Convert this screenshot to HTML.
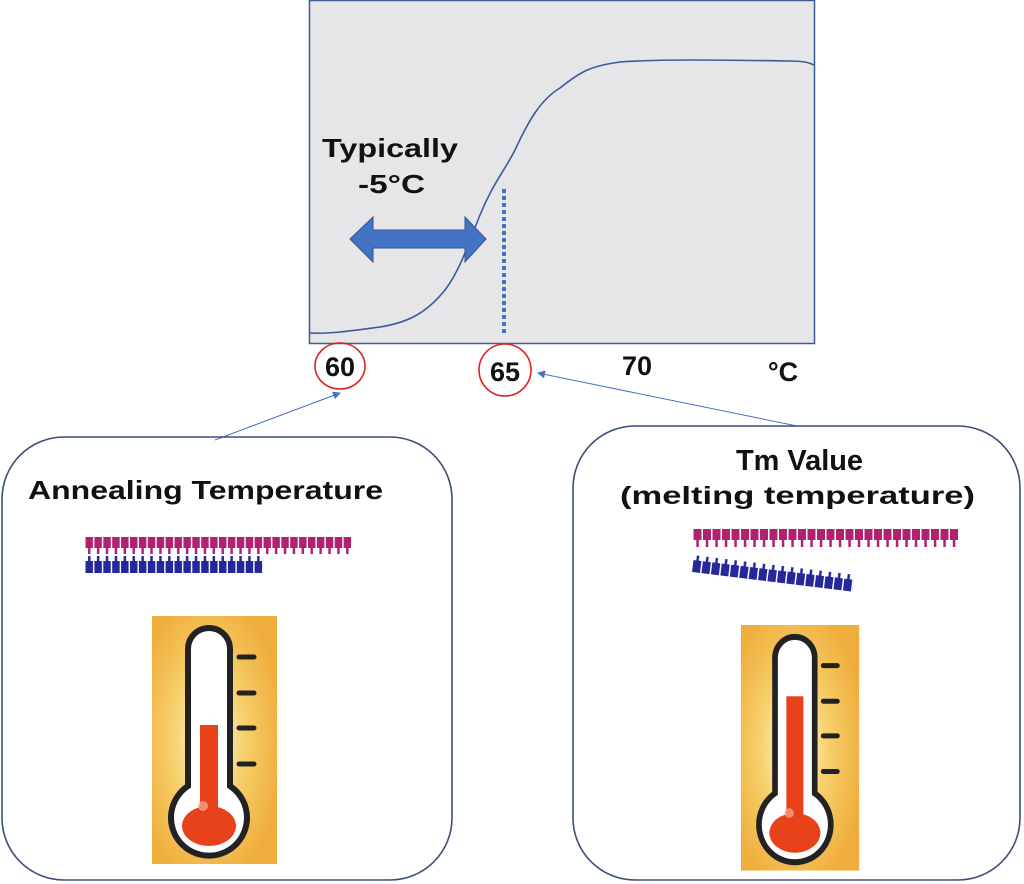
<!DOCTYPE html>
<html><head><meta charset="utf-8"><style>
html,body{margin:0;padding:0;background:#fff;}
svg{display:block;}
text{font-family:"Liberation Sans","DejaVu Sans",sans-serif;font-weight:bold;fill:#111;}
</style></head><body>
<svg width="1024" height="884" viewBox="0 0 1024 884" xmlns="http://www.w3.org/2000/svg">
<defs>
<pattern id="mag" x="85" y="0" width="8.9" height="900" patternUnits="userSpaceOnUse">
 <rect x="0.5" y="537" width="7.5" height="11" fill="#b0216f"/>
 <rect x="3" y="547" width="2.5" height="7" fill="#b0216f"/>
</pattern>
<pattern id="blu" x="85" y="0" width="8.9" height="900" patternUnits="userSpaceOnUse">
 <rect x="3" y="556" width="2.5" height="6" fill="#25279a"/>
 <rect x="0.5" y="561" width="7.5" height="12" fill="#25279a"/>
</pattern>
<pattern id="mag2" x="693" y="0" width="9.5" height="900" patternUnits="userSpaceOnUse">
 <rect x="0.5" y="529" width="8" height="11" fill="#b0216f"/>
 <rect x="3.3" y="539" width="2.5" height="8" fill="#b0216f"/>
</pattern>
<pattern id="blu2" x="693" y="0" width="9.5" height="900" patternUnits="userSpaceOnUse">
 <rect x="3.3" y="555" width="2.5" height="6" fill="#25279a"/>
 <rect x="0.5" y="560" width="8" height="12" fill="#25279a"/>
</pattern>
<radialGradient id="glow" cx="0.45" cy="0.5" r="0.6">
 <stop offset="0" stop-color="#fff8e0"/><stop offset="0.5" stop-color="#f7cf6a"/><stop offset="1" stop-color="#efad3c"/>
</radialGradient>
<marker id="ah" markerWidth="8" markerHeight="8" refX="7" refY="4" orient="auto" markerUnits="userSpaceOnUse">
 <path d="M0,0 L8,4 L0,8 z" fill="#4472c4"/>
</marker>
<g id="thermo">
 <rect x="0" y="0" width="125" height="248" fill="url(#glow)"/>
 <path d="M36,33 a21,21 0 0 1 42,0 V170 a38,38 0 1 1 -42,0 Z" fill="#fff" stroke="#222" stroke-width="6"/>
 <rect x="48" y="109" width="18" height="95" fill="#e8421a"/>
 <ellipse cx="57" cy="210" rx="27" ry="20" fill="#e8421a"/>
 <circle cx="51" cy="190" r="5" fill="#f4a08a" opacity="0.8"/>
 <g stroke="#222" stroke-width="5" stroke-linecap="round">
  <line x1="87" y1="41" x2="102" y2="41"/><line x1="87" y1="77" x2="102" y2="77"/>
  <line x1="87" y1="112" x2="102" y2="112"/><line x1="87" y1="148" x2="102" y2="148"/>
 </g>
</g>
</defs>

<rect x="309.5" y="0.5" width="505" height="343" fill="#e6e5e7" stroke="#3b5a8c" stroke-width="1.5"/>
<path d="M310,333 C330,334 350,331 380,327 C405,323 425,315 445,290 C460,270 468,245 480,215 C492,185 505,170 515,150 C528,122 540,100 560,88 C580,72 590,66 620,62 C660,59 720,60 790,61 C805,61 810,63 814,65" fill="none" stroke="#3b5a9a" stroke-width="1.6"/>
<line x1="504" y1="189" x2="504" y2="333" stroke="#4472c4" stroke-width="4" stroke-dasharray="4,3"/>
<path d="M350,239 L373,217 L373,230 L465,230 L465,217 L486,239 L465,262 L465,248 L373,248 L373,262 Z" fill="#4472c4" stroke="#2f5597" stroke-width="1"/>
<text x="322" y="157" font-size="26" textLength="136" lengthAdjust="spacingAndGlyphs">Typically</text>
<text x="358" y="193" font-size="26" textLength="67" lengthAdjust="spacingAndGlyphs">-5°C</text>

<text x="340" y="376" font-size="27" text-anchor="middle">60</text>
<text x="505" y="381" font-size="27" text-anchor="middle">65</text>
<text x="637" y="375" font-size="27" text-anchor="middle">70</text>
<text x="783" y="381" font-size="27" text-anchor="middle">°C</text>
<ellipse cx="340" cy="366" rx="25" ry="23" fill="none" stroke="#d22" stroke-width="1.6"/>
<circle cx="505" cy="370" r="26" fill="none" stroke="#d22" stroke-width="1.6"/>

<line x1="215" y1="440" x2="340" y2="393" stroke="#4472c4" stroke-width="1" marker-end="url(#ah)"/>
<line x1="797" y1="426" x2="538" y2="373" stroke="#4472c4" stroke-width="1" marker-end="url(#ah)"/>

<rect x="2" y="437" width="450" height="443" rx="62" fill="none" stroke="#3b4f78" stroke-width="1.6"/>
<rect x="573" y="426" width="447" height="454" rx="62" fill="none" stroke="#3b4f78" stroke-width="1.6"/>

<text x="28" y="499" font-size="26" textLength="355" lengthAdjust="spacingAndGlyphs">Annealing Temperature</text>
<text x="736" y="470" font-size="29" textLength="127" lengthAdjust="spacingAndGlyphs">Tm Value</text>
<text x="620" y="504" font-size="25" textLength="355" lengthAdjust="spacingAndGlyphs">(melting temperature)</text>

<rect x="85" y="537" width="267" height="18" fill="url(#mag)"/>
<rect x="85" y="555" width="178" height="19" fill="url(#blu)"/>
<rect x="693" y="529" width="266" height="19" fill="url(#mag2)"/>
<g transform="rotate(7 693 560)"><rect x="693" y="555" width="162" height="18" fill="url(#blu2)"/></g>

<use href="#thermo" transform="translate(152,616)"/>
<g transform="translate(741,625) scale(0.945,0.99)">
 <rect x="0" y="0" width="125" height="248" fill="url(#glow)"/>
 <path d="M36,33 a21,21 0 0 1 42,0 V170 a38,38 0 1 1 -42,0 Z" fill="#fff" stroke="#222" stroke-width="6"/>
 <rect x="48" y="72" width="18" height="132" fill="#e8421a"/>
 <ellipse cx="57" cy="210" rx="27" ry="20" fill="#e8421a"/>
 <circle cx="51" cy="190" r="5" fill="#f4a08a" opacity="0.8"/>
 <g stroke="#222" stroke-width="5" stroke-linecap="round">
  <line x1="87" y1="41" x2="102" y2="41"/><line x1="87" y1="77" x2="102" y2="77"/>
  <line x1="87" y1="112" x2="102" y2="112"/><line x1="87" y1="148" x2="102" y2="148"/>
 </g>
</g>
</svg>
</body></html>
